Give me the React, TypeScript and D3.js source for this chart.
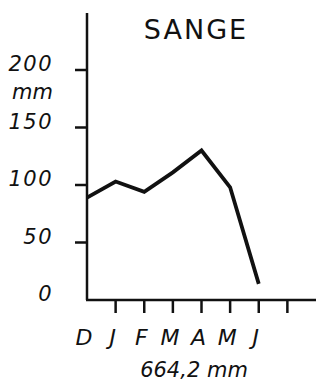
import React from "react";
import * as d3 from "d3";

const months = ["D", "J", "F", "M", "A", "M", "J"];
const rain = [89, 103, 94, 111, 130, 98, 14];
const yTicks = [50, 100, 150, 200];
const yLabels = ["0", "50", "100", "150", "200"];
const title = "SANGE";
const total = "664,2 mm";
const unit = "mm";

export default function App() {
  const W = 323, H = 390;
  const x = d3.scaleLinear().domain([0, 8]).range([87, 316]);
  const y = d3.scaleLinear().domain([0, 200]).range([300, 70]);
  const line = d3.line<number>().x((_, i) => x(i)).y((d) => y(d));
  const font = "'DejaVu Sans', sans-serif";
  return (
    <svg width={W} height={H} style={{ position: "absolute", left: 0, top: 0, background: "#fff" }}>
      <rect width={W} height={H} fill="#fff" />
      {/* axes */}
      <line x1={x(0)} x2={x(0)} y1={13} y2={y(0)} stroke="#111" strokeWidth={2.5} />
      <line x1={x(0) - 1} x2={x(8)} y1={y(0)} y2={y(0)} stroke="#111" strokeWidth={2.5} />
      {yTicks.map((t) => (
        <line key={t} x1={75} x2={x(0)} y1={y(t)} y2={y(t)} stroke="#111" strokeWidth={2.5} />
      ))}
      {d3.range(1, 8).map((i) => (
        <line key={i} x1={x(i)} x2={x(i)} y1={y(0)} y2={y(0) + 13} stroke="#111" strokeWidth={2.5} />
      ))}
      {/* y labels */}
      {yLabels.map((l) => (
        <text key={l} x={53} y={y(+l) + 1} textAnchor="end" fontFamily={font} fontStyle="italic"
          fontSize={21} letterSpacing={1.5} fill="#111">{l}</text>
      ))}
      <text x={53} y={99} textAnchor="end" fontFamily={font} fontStyle="italic" fontSize={21} fill="#111">{unit}</text>
      {/* title */}
      <text x={196} y={39} textAnchor="middle" fontFamily={font} fontSize={27} letterSpacing={2}
        fill="#111">{title}</text>
      {/* month labels */}
      {months.map((m, i) => (
        <text key={i} x={x(i) - 3} y={345} textAnchor="middle" fontFamily={font} fontStyle="italic"
          fontSize={22} fill="#111">{m}</text>
      ))}
      <text x={194} y={377} textAnchor="middle" fontFamily={font} fontStyle="italic" fontSize={21}
        fill="#111">{total}</text>
      {/* data line */}
      <path d={line(rain) || ""} fill="none" stroke="#111" strokeWidth={3.8} strokeLinejoin="miter" />
    </svg>
  );
}
